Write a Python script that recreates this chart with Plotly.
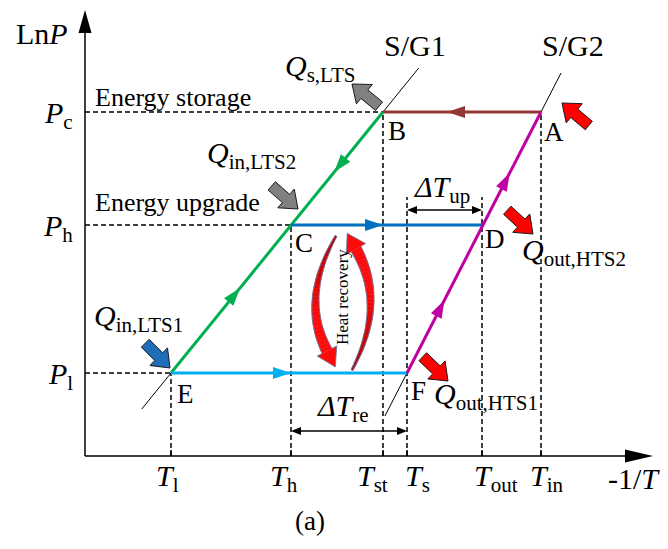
import numpy as np
import plotly.graph_objects as go

# ---- diagram data: horizontal axis is -1/T, vertical axis is LnP (arbitrary units) ----
temp_keys = ["l", "h", "st", "s", "out", "in"]
temp_vals = [8.6, 20.6, 29.8, 32.2, 39.7, 45.6]
temp_label_shift = [-0.4, -0.7, -1.1, 1.0, 1.4, 0.6]

pres_keys = ["l", "h", "c"]
pres_vals = [8.3, 23.1, 34.4]

# state points: (name, temperature key, pressure key)
state_names = ["A", "B", "C", "D", "E", "F"]
state_temp = ["in", "st", "h", "out", "l", "s"]
state_pres = ["c", "c", "h", "h", "l", "l"]

# solid/gas equilibrium line extents (LnP at both ends)
sg1_ext = (4.7, 38.8)
sg2_ext = (4.0, 38.3)

x_axis_end = 56.8
y_axis_end = 44.6

PX = 10.0          # screen pixels per data unit (both axes)
SERIF = "Liberation Serif, Times New Roman, serif"

T = dict(zip(temp_keys, temp_vals))
P = dict(zip(pres_keys, pres_vals))
S = {n: (T[t], P[p]) for n, t, p in zip(state_names, state_temp, state_pres)}

fig = go.Figure()


def add_line(xs, ys, color="black", width=1.5, dash=None):
    fig.add_trace(go.Scatter(x=list(xs), y=list(ys), mode="lines",
                             line=dict(color=color, width=width, dash=dash),
                             hoverinfo="skip"))


def add_poly(pts, fill, edge=None, edge_w=0):
    pts = np.asarray(pts, float)
    xs = list(pts[:, 0]) + [pts[0, 0]]
    ys = list(pts[:, 1]) + [pts[0, 1]]
    fig.add_trace(go.Scatter(x=xs, y=ys, mode="lines", fill="toself",
                             fillcolor=fill,
                             line=dict(color=edge or fill, width=edge_w),
                             hoverinfo="skip"))


def unit(d):
    d = np.asarray(d, float)
    return d / np.hypot(*d)


def head(tip, d, length, width):
    d = unit(d)
    n = np.array([-d[1], d[0]])
    tip = np.asarray(tip, float)
    b = tip - d * length / PX
    return [tip, b + n * width / (2 * PX), b - n * width / (2 * PX)]


def block_arrow(tip, d, total=35, shaft_w=11, head_w=25, head_len=16):
    d = unit(d)
    n = np.array([-d[1], d[0]])
    tip = np.asarray(tip, float)
    neck = tip - d * head_len / PX
    tail = tip - d * total / PX
    hs, hh = shaft_w / (2 * PX), head_w / (2 * PX)
    return [tip, neck + n * hh, neck + n * hs, tail + n * hs,
            tail - n * hs, neck - n * hs, neck - n * hh]


def on_line(p0, p1, lnp):
    """Point on the straight line through p0, p1 at a given LnP."""
    f = (lnp - p0[1]) / (p1[1] - p0[1])
    return (p0[0] + f * (p1[0] - p0[0]), lnp)


# ---- dashed guide lines ----
DASH = "5px,3px"
for pk, sname in [("c", "B"), ("h", "C"), ("l", "E")]:
    add_line([0, S[sname][0]], [P[pk], P[pk]], dash=DASH)
add_line([T["l"], T["l"]], [0, P["l"]], dash=DASH)
add_line([T["h"], T["h"]], [0, P["h"]], dash=DASH)
add_line([T["st"], T["st"]], [0, P["c"]], dash=DASH)
add_line([T["in"], T["in"]], [0, P["c"]], dash=DASH)
up_top = 25.9
add_line([T["s"], T["s"]], [0, up_top], dash=DASH)
add_line([T["out"], T["out"]], [0, up_top], dash=DASH)

# ---- axes ----
add_line([0, x_axis_end - 2.8], [0, 0], width=1.5)
add_line([0, 0], [0, y_axis_end - 2.3], width=1.5)
add_poly(head((x_axis_end, 0), (1, 0), 28, 13), "black")
add_poly(head((0, y_axis_end), (0, 1), 23, 13), "black")
for tv in temp_vals:
    add_line([tv, tv], [0, 0.6], width=1.5)

# ---- solid/gas equilibrium lines ----
a = on_line(S["E"], S["B"], sg1_ext[0]); b = on_line(S["E"], S["B"], sg1_ext[1])
add_line([a[0], b[0]], [a[1], b[1]], width=1)
a = on_line(S["F"], S["A"], sg2_ext[0]); b = on_line(S["F"], S["A"], sg2_ext[1])
add_line([a[0], b[0]], [a[1], b[1]], width=1)

# ---- process lines ----
BROWN, GREEN, BLUE, LBLUE, MAG = "#953735", "#00b050", "#0070c0", "#00b0f0", "#c000a0"
LW = 3
add_line([S["A"][0], S["B"][0]], [S["A"][1], S["B"][1]], BROWN, LW)
add_line([S["E"][0], S["B"][0]], [S["E"][1], S["B"][1]], GREEN, LW)
add_line([S["C"][0], S["D"][0]], [S["C"][1], S["D"][1]], BLUE, LW)
add_line([S["E"][0], S["F"][0]], [S["E"][1], S["F"][1]], LBLUE, LW)
add_line([S["F"][0], S["A"][0]], [S["F"][1], S["A"][1]], MAG, LW)

# flow direction markers
HL, HW = 18, 12
add_poly(head((36.2, P["c"]), (-1, 0), HL, HW), BROWN)
gdir = np.subtract(S["B"], S["E"])
add_poly(head(on_line(S["E"], S["B"], 28.4), -gdir, HL, HW), GREEN)
add_poly(head(on_line(S["E"], S["B"], 16.8), gdir, HL, HW), GREEN)
add_poly(head((T["st"], P["h"]), (1, 0), HL, HW), BLUE)
add_poly(head((T["h"], P["l"]), (1, 0), HL, HW), LBLUE)
mdir = np.subtract(S["A"], S["F"])
add_poly(head(on_line(S["F"], S["A"], 28.3), mdir, HL, HW), MAG)
add_poly(head(on_line(S["F"], S["A"], 15.6), mdir, HL, HW), MAG)

# ---- temperature-difference brackets ----
def bracket(x0, x1, y):
    add_line([x0 + 0.6, x1 - 0.6], [y, y], width=1.5)
    add_poly(head((x0, y), (-1, 0), 10, 8), "black")
    add_poly(head((x1, y), (1, 0), 10, 8), "black")

bracket(T["s"], T["out"], 24.6)
bracket(T["h"], T["s"], 2.5)

# ---- heat flow block arrows ----
GRAY, DBLUE, RED = "#808080", "#1f6cb8", "#ff0000"
def heat_arrow(state, off, d, color):
    tip = (S[state][0] + off[0], S[state][1] + off[1])
    add_poly(block_arrow(tip, d), color, "#1a1a1a", 1)

heat_arrow("B", (-3.1, 2.8), (-28, 23), GRAY)
heat_arrow("C", (0.7, 1.6), (25, -22), GRAY)
heat_arrow("E", (-0.1, 0.5), (25, -25), DBLUE)
heat_arrow("A", (2.1, 0.9), (-25, 21), RED)
heat_arrow("D", (5.1, -0.9), (26, -24), RED)
heat_arrow("F", (4.1, -0.8), (25, -24), RED)

# ---- heat recovery curved arrows ----
hc = ((T["h"] + T["st"]) / 2 + 0.5, (P["l"] + P["h"]) / 2)

def to_data(p):
    return (hc[0] + p[0] / PX, hc[1] - p[1] / PX)

def curved_arrow(tail, ctrl, end, w0=2, w1=11, head_len=18, head_w=22):
    t = np.linspace(0, 1, 31)
    P0, C, P1 = (np.asarray(v, float) for v in (tail, ctrl, end))
    pts = ((1 - t) ** 2)[:, None] * P0 + (2 * (1 - t) * t)[:, None] * C + (t ** 2)[:, None] * P1
    der = (2 * (1 - t))[:, None] * (C - P0) + (2 * t)[:, None] * (P1 - C)
    der /= np.hypot(der[:, 0], der[:, 1])[:, None]
    nrm = np.stack([-der[:, 1], der[:, 0]], axis=1)
    hw = (w0 + (w1 - w0) * t) / 2
    left = pts + nrm * hw[:, None]
    right = pts - nrm * hw[:, None]
    dark, bright = np.array([176, 0, 0]), np.array([255, 10, 10])
    for i in range(len(t) - 1):
        f = min(1.0, t[i] / 0.65)
        c = (dark + (bright - dark) * f).astype(int)
        quad = [left[i], left[i + 1], right[i + 1], right[i]]
        add_poly([to_data(q) for q in quad], "rgb(%d,%d,%d)" % tuple(c), None, 0.5)
    d, n = der[-1], nrm[-1]
    tip = P1 + d * head_len
    hl, hr = P1 + n * head_w / 2, P1 - n * head_w / 2
    add_poly([to_data(q) for q in (hl, tip, hr)], "rgb(255,10,10)")
    outline = list(left) + [hl, tip, hr] + list(right[::-1]) + [left[0]]
    od = [to_data(q) for q in outline]
    add_line([q[0] for q in od], [q[1] for q in od], "#5d7aa8", 0.8)

curved_arrow((-6, -63), (-42, 0), (-15, 52))
curved_arrow((10, 71), (45, 5), (14, -50))

# ---- text ----
def label(x, y, text, size, xanchor="center", yanchor="middle", angle=0):
    fig.add_annotation(x=x, y=y, text=text, showarrow=False, textangle=angle,
                       font=dict(family=SERIF, size=size, color="black"),
                       xanchor=xanchor, yanchor=yanchor)

label(hc[0], hc[1] + 0.2, "Heat recovery", 17, angle=-90)

label(-4.3, 42.3, "Ln<i>P</i>", 30)
for pk in pres_keys:
    label(-1.0, P[pk] - 0.3, "<i>P</i><sub>%s</sub>" % pk, 30, xanchor="right")

label(0.8, 35.9, "Energy storage", 26, xanchor="left")
label(0.8, 25.4, "Energy upgrade", 26, xanchor="left")
label(33.0, 41.1, "S/G1", 30)
label(48.8, 41.1, "S/G2", 30)

label(23.5, 38.8, "<i>Q</i><sub>s,LTS</sub>", 30)
label(16.6, 30.1, "<i>Q</i><sub>in,LTS2</sub>", 30)
label(5.3, 13.8, "<i>Q</i><sub>in,LTS1</sub>", 30)
label(48.9, 20.4, "<i>Q</i><sub>out,HTS2</sub>", 30)
label(40.1, 6.0, "<i>Q</i><sub>out,HTS1</sub>", 30)
label(35.7, 26.7, "<i>ΔT</i><sub>up</sub>", 30)
label(25.8, 4.8, "<i>ΔT</i><sub>re</sub>", 30)

letter_off = {"A": (1.3, -2.0), "B": (1.4, -1.9), "C": (1.3, -1.8),
              "D": (1.3, -1.4), "E": (1.4, -2.1), "F": (1.1, -1.8)}
for n in state_names:
    label(S[n][0] + letter_off[n][0], S[n][1] + letter_off[n][1], n, 27)

for key, tv, sh in zip(temp_keys, temp_vals, temp_label_shift):
    label(tv + sh, -2.2, "<i>T</i><sub>%s</sub>" % key, 30)
label(54.9, -2.2, "-1/<i>T</i>", 30)
label(22.5, -6.5, "(a)", 27)

fig.update_layout(
    width=668, height=549,
    margin=dict(l=0, r=0, t=0, b=0),
    paper_bgcolor="white", plot_bgcolor="white",
    showlegend=False,
    xaxis=dict(range=[-8.5, 58.3], visible=False, fixedrange=True),
    yaxis=dict(range=[-9.3, 45.6], visible=False, fixedrange=True),
)

fig.write_html("out.html")
